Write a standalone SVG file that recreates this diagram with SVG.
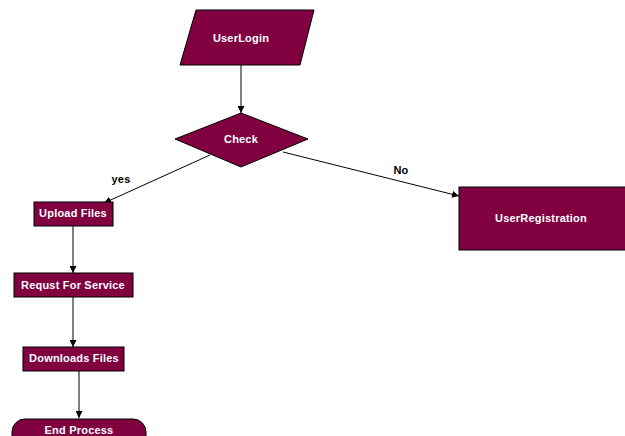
<svg xmlns="http://www.w3.org/2000/svg" width="625" height="436" viewBox="0 0 625 436">
<defs>
<marker id="ah" viewBox="0 0 10 10" refX="10" refY="5" markerWidth="7" markerHeight="7" orient="auto" markerUnits="userSpaceOnUse">
<path d="M0,0 L10,5 L0,10 z" fill="#000"/>
</marker>
<style>
.n{fill:#800040;stroke:#000;stroke-width:1}
.t{font-family:"Liberation Sans",Arial,sans-serif;font-weight:bold;font-size:11px;letter-spacing:0.2px;fill:#fff;text-anchor:middle;dominant-baseline:central}
.l{font-family:"Liberation Sans",Arial,sans-serif;font-weight:bold;font-size:11px;letter-spacing:0.2px;fill:#000;text-anchor:middle;dominant-baseline:central}
.c{stroke:#000;stroke-width:1;fill:none;marker-end:url(#ah)}
</style>
</defs>
<rect width="625" height="436" fill="#fff"/>
<g id="connectors">
<line class="c" x1="241" y1="65" x2="241" y2="113"/>
<line class="c" x1="210" y1="155" x2="104" y2="203"/>
<line class="c" x1="283" y1="152" x2="459" y2="196"/>
<line class="c" x1="73" y1="226" x2="73" y2="273"/>
<line class="c" x1="73" y1="297" x2="73" y2="347"/>
<line class="c" x1="79" y1="371" x2="79" y2="418"/>
<text class="l" x="121" y="179">yes</text>
<text class="l" x="401" y="170">No</text>
</g>
<g id="userlogin">
<polygon class="n" points="196,10 314,10 300,65 180,65"/>
<text class="t" x="241" y="38">UserLogin</text>
</g>
<g id="check">
<polygon class="n" points="241,113 308,139 241,167 175,139"/>
<text class="t" x="241" y="139">Check</text>
</g>
<g id="upload">
<rect class="n" x="34" y="202" width="79" height="24"/>
<text class="t" x="73" y="213">Upload Files</text>
</g>
<g id="request">
<rect class="n" x="14" y="273" width="119" height="24"/>
<text class="t" x="73" y="285">Requst For Service</text>
</g>
<g id="downloads">
<rect class="n" x="23" y="347" width="101" height="24"/>
<text class="t" x="74" y="358">Downloads Files</text>
</g>
<g id="end">
<rect class="n" x="12" y="419" width="134" height="30" rx="13" ry="13"/>
<text class="t" x="79" y="430">End Process</text>
</g>
<g id="registration">
<rect class="n" x="459" y="187" width="170" height="63"/>
<text class="t" x="541" y="218">UserRegistration</text>
</g>
</svg>
